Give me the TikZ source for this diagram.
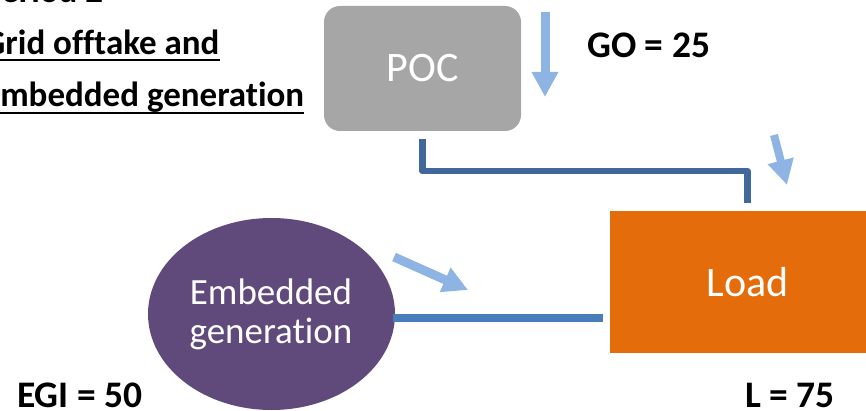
\documentclass[tikz,border=0pt]{standalone}
\usepackage{fontspec}
\setmainfont{Carlito}[Ligatures=NoCommon]
\usetikzlibrary{arrows.meta,shapes.geometric}

\definecolor{pocgray}{HTML}{A6A6A6}
\definecolor{loadorange}{HTML}{E46C0A}
\definecolor{egpurple}{HTML}{604A7B}
\definecolor{flowblue}{HTML}{8DB4E2}
\definecolor{griddark}{HTML}{41689A}
\definecolor{egline}{HTML}{4A7EBB}

\tikzset{
  boxtext/.style={text=white, inner sep=0pt},
  heading/.style={anchor=base west, inner sep=0pt, font=\bfseries\fontsize{35}{40}\selectfont},
  value/.style={anchor=base west, inner sep=0pt, font=\bfseries\fontsize{37.5}{40}\selectfont},
  flow/.style={draw=flowblue, line width=9pt, -{Triangle[length=25pt,width=25pt]}},
  headrule/.style={line width=2.5pt},
}

\begin{document}
\begin{tikzpicture}[x=1pt,y=-1pt]
\useasboundingbox (0,0) rectangle (866,411);

% heading block, running off the top-left corner
\node[heading] (h1) at (-17,3) {Period 2};
\node[heading] (h2) at (-17,55) {Grid offtake and};
\node[heading] (h3) at (-17,107) {Embedded generation};
\draw[headrule] ([yshift=-5pt]h2.base west) -- ([yshift=-5pt]h2.base east);
\draw[headrule] ([yshift=-6pt]h3.base west) -- ([yshift=-6pt]h3.base east);

% point of connection
\node[boxtext, fill=pocgray, rounded corners=16pt, minimum width=197pt, minimum height=125pt,
      font=\fontsize{42}{50}\selectfont] (poc) at (422.5,68.5) {POC};

% load block, cut by the right edge
\node[boxtext, fill=loadorange, minimum width=275pt, minimum height=142pt,
      font=\fontsize{42}{50}\selectfont] (load) at (747.5,282) {Load};

% embedded generation
\node[ellipse, fill=egpurple, minimum width=247pt, minimum height=192pt, inner sep=0pt] (eg) at (271.5,314) {};
\node[boxtext, align=center, font=\fontsize{37}{39}\selectfont] (egtxt) at (271,314) {Embedded\\generation};

% grid connection from POC to the load
\coordinate (c1) at ([yshift=-8pt]poc.south);
\coordinate (c2) at ([yshift=8pt]load.north);
\draw[griddark, line width=6.5pt, line join=round] (c1) -- ++(0,32) -| (c2);

% embedded generation feeding the load
\coordinate (e1) at ([xshift=-2pt,yshift=-3.5pt]eg.east);
\coordinate (e2) at ([xshift=-7pt]load.west |- e1);
\draw[egline, line width=8pt] (e1) -- (e2);

% flow indicators
\draw[flow] (545,12) -- (545,97);
\draw[flow, line width=8pt] (774,135) -- (787,185);
\draw[flow] (394,257) -- (468,290);

% values
\node[value] (go) at (587,58) {GO = 25};
\node[value] (egi) at (17,407) {EGI = 50};
\node[value] (lv) at (745,407) {L = 75};
\end{tikzpicture}
\end{document}
